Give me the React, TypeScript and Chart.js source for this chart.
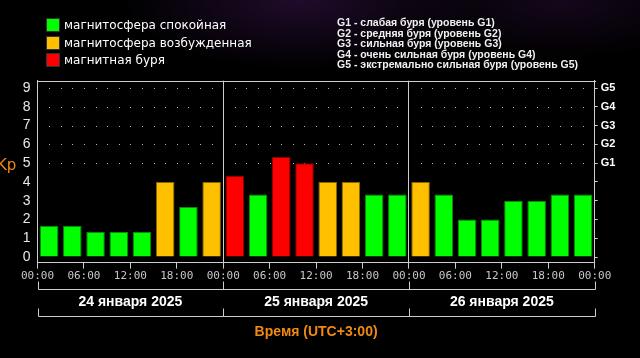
import React, { useEffect, useRef } from 'react';
import { Chart, registerables } from 'chart.js';

Chart.register(...registerables);

// ---- data ----
const dayLabels = ['24 января 2025', '25 января 2025', '26 января 2025'];
const slotStartHours = [0, 3, 6, 9, 12, 15, 18, 21];
const kpDay24 = [1.67, 1.67, 1.33, 1.33, 1.33, 4, 2.67, 4];
const kpDay25 = [4.33, 3.33, 5.33, 5, 4, 4, 3.33, 3.33];
const kpDay26 = [4, 3.33, 2, 2, 3, 3, 3.33, 3.33];
const kpByDay = [kpDay24, kpDay25, kpDay26];
const hourTicks = [0, 6, 12, 18, 24, 30, 36, 42, 48, 54, 60, 66, 72];
const timeTickLabels = ['00:00', '06:00', '12:00', '18:00'];
const dayCenterHours = [12, 36, 60];
const kpTicks = [0, 1, 2, 3, 4, 5, 6, 7, 8, 9];
const gLevelLabels = ['G1', 'G2', 'G3', 'G4', 'G5'];
const legendStates = ['магнитосфера спокойная', 'магнитосфера возбужденная', 'магнитная буря'];
const gLegendLines = [
  'G1 - слабая буря (уровень G1)',
  'G2 - средняя буря (уровень G2)',
  'G3 - сильная буря (уровень G3)',
  'G4 - очень сильная буря (уровень G4)',
  'G5 - экстремально сильная буря (уровень G5)',
];
const axisTitleX = 'Время (UTC+3:00)';
const axisTitleY = 'Kp';

// ---- styles ----
const GREEN = '#00ff00';
const ORANGE = '#ffc000';
const RED = '#ff0000';
const stateColors = [GREEN, ORANGE, RED];
const stateBorders = ['#0b8a0b', '#8a6800', '#8a0000'];
const FRAME = '#cdcdcd';
const ORANGE_TEXT = '#f08a10';

const stateOf = (v: number) => (v >= 4.33 ? 2 : v >= 4 ? 1 : 0);

const points: { x: number; y: number }[] = [];
kpByDay.forEach((arr, d) =>
  arr.forEach((v, s) => points.push({ x: d * 24 + slotStartHours[s] + 1.5, y: v }))
);

const decorPlugin = {
  id: 'decor',
  beforeDatasetsDraw(chart: any) {
    const { ctx } = chart;
    const xs = chart.scales.x;
    const ys = chart.scales.y;
    ctx.save();
    ctx.fillStyle = '#b8b8b8';
    for (let v = 5; v <= 9; v++) {
      const y = Math.round(ys.getPixelForValue(v));
      for (let k = 1; k < 48; k++) {
        if (k % 16 === 0) continue;
        const x = Math.round(xs.getPixelForValue(k * 1.5));
        ctx.fillRect(x, y, 1, 1);
      }
    }
    ctx.restore();
  },
  afterDraw(chart: any) {
    const { ctx, chartArea } = chart;
    const xs = chart.scales.x;
    const xd = chart.scales.xd;
    const ys = chart.scales.y;
    ctx.save();
    ctx.strokeStyle = FRAME;
    ctx.lineWidth = 1;
    // top frame line
    const ty = Math.round(chartArea.top) + 0.5;
    ctx.beginPath();
    ctx.moveTo(Math.round(chartArea.left), ty);
    ctx.lineTo(Math.round(chartArea.right) + 1, ty);
    ctx.stroke();
    // brackets
    const bys = [xs.bottom, xd.top + 26.7];
    bys.forEach((by) => {
      const yy = Math.round(by) + 0.5;
      ctx.beginPath();
      ctx.moveTo(Math.round(xs.getPixelForValue(0)) + 0.5, yy);
      ctx.lineTo(Math.round(xs.getPixelForValue(72)) + 0.5, yy);
      [0, 24, 48, 72].forEach((h) => {
        const px = Math.round(xs.getPixelForValue(h)) + 0.5;
        ctx.moveTo(px, yy);
        ctx.lineTo(px, yy - 8);
      });
      ctx.stroke();
    });
    // Kp label
    ctx.fillStyle = ORANGE_TEXT;
    ctx.font = '15px "DejaVu Sans"';
    ctx.textAlign = 'left';
    ctx.textBaseline = 'middle';
    ctx.fillText(axisTitleY, -3, ys.getPixelForValue(4.85));
    ctx.restore();
  },
};

export default function App() {
  const ref = useRef<HTMLCanvasElement | null>(null);
  useEffect(() => {
    if (!ref.current) return;
    const chart = new Chart(ref.current, {
      type: 'bar',
      data: {
        datasets: [
          {
            data: points as any,
            backgroundColor: points.map((p) => stateColors[stateOf(p.y)]),
            borderColor: points.map((p) => stateBorders[stateOf(p.y)]),
            borderWidth: 1,
            categoryPercentage: 1,
            barPercentage: 0.8,
          },
        ],
      },
      options: {
        responsive: false,
        animation: false,
        layout: { padding: { top: 80.7, left: 0, right: 0, bottom: 0 } },
        plugins: { legend: { display: false }, tooltip: { enabled: false }, title: { display: false } },
        scales: {
          x: {
            type: 'linear',
            position: 'bottom',
            min: 0,
            max: 72,
            offset: false,
            weight: 0,
            afterBuildTicks: (s: any) => {
              s.ticks = hourTicks.map((v) => ({ value: v }));
            },
            afterFit: (s: any) => {
              s.height = 26.6;
            },
            ticks: {
              color: '#c8c8c8',
              font: { family: 'DejaVu Sans Mono', size: 11 },
              padding: 1,
              maxRotation: 0,
              autoSkip: false,
              callback: (v: any) => timeTickLabels[(Number(v) / 6) % 4],
            },
            grid: {
              offset: false,
              drawOnChartArea: true,
              color: (c: any) =>
                c.tick && c.tick.value % 24 === 0 && c.tick.value > 0 && c.tick.value < 72 ? FRAME : 'rgba(0,0,0,0)',
              tickColor: FRAME,
              tickLength: 6,
              lineWidth: 1,
            },
            border: { display: true, color: FRAME, width: 1 },
          },
          xd: {
            type: 'linear',
            position: 'bottom',
            min: 0,
            max: 72,
            offset: false,
            weight: 1,
            afterBuildTicks: (s: any) => {
              s.ticks = dayCenterHours.map((v) => ({ value: v }));
            },
            afterFit: (s: any) => {
              s.height = 68.7;
            },
            ticks: {
              color: '#ffffff',
              font: { family: 'Liberation Sans', size: 14, weight: 'bold' },
              padding: 4,
              maxRotation: 0,
              autoSkip: false,
              callback: (v: any) => dayLabels[dayCenterHours.indexOf(Number(v))],
            },
            grid: { display: false, drawTicks: false },
            border: { display: false },
            title: {
              display: true,
              text: axisTitleX,
              color: ORANGE_TEXT,
              font: { family: 'Liberation Sans', size: 14, weight: 'bold' },
              padding: { top: 0, bottom: 17.6 },
            },
          },
          y: {
            type: 'linear',
            position: 'left',
            min: -0.3,
            max: 9.39,
            afterBuildTicks: (s: any) => {
              s.ticks = kpTicks.map((v) => ({ value: v }));
            },
            afterFit: (s: any) => {
              s.width = 37.5;
            },
            ticks: {
              color: '#e8e8e8',
              font: { family: 'Liberation Sans', size: 14 },
              padding: 7,
            },
            grid: { drawOnChartArea: false, drawTicks: false },
            border: { display: true, color: FRAME, width: 1 },
          },
          y2: {
            type: 'linear',
            position: 'right',
            min: -0.3,
            max: 9.39,
            afterBuildTicks: (s: any) => {
              s.ticks = kpTicks.map((v) => ({ value: v }));
            },
            afterFit: (s: any) => {
              s.width = 45.3;
            },
            ticks: {
              color: '#ffffff',
              font: { family: 'Liberation Sans', size: 11, weight: 'bold' },
              padding: 3,
              callback: (v: any) => (Number(v) >= 5 ? gLevelLabels[Number(v) - 5] : ''),
            },
            grid: { drawOnChartArea: false, tickLength: 3, tickColor: FRAME },
            border: { display: true, color: FRAME, width: 1 },
          },
        },
      } as any,
      plugins: [decorPlugin],
    });
    return () => chart.destroy();
  }, []);

  return (
    <div
      style={{
        position: 'fixed',
        left: 0,
        top: 0,
        width: 640,
        height: 358,
        overflow: 'hidden',
        background:
          'radial-gradient(ellipse 180px 70px at 300px 0px, rgba(70,25,95,0.45), rgba(0,0,0,0)), radial-gradient(ellipse 160px 60px at 560px 0px, rgba(60,20,80,0.35), rgba(0,0,0,0)), #000',
      }}
    >
      <canvas ref={ref} width={640} height={358} style={{ position: 'absolute', left: 0, top: 0, display: 'block' }} />
      <div style={{ position: 'absolute', left: 46, top: 16, fontFamily: '"DejaVu Sans"', fontSize: 12, color: '#fff' }}>
        {legendStates.map((t, i) => (
          <div key={t} style={{ display: 'flex', alignItems: 'center', height: 17.7 }}>
            <div
              style={{
                width: 12,
                height: 12,
                background: stateColors[i],
                border: '1px solid #333',
                marginRight: 4,
              }}
            />
            <span>{t}</span>
          </div>
        ))}
      </div>
      <div
        style={{
          position: 'absolute',
          left: 337,
          top: 17,
          fontFamily: '"Liberation Sans"',
          fontWeight: 'bold',
          fontSize: 10.5,
          lineHeight: '10.6px',
          color: '#f0f0f0',
          whiteSpace: 'nowrap',
        }}
      >
        {gLegendLines.map((t) => (
          <div key={t}>{t}</div>
        ))}
      </div>
    </div>
  );
}
